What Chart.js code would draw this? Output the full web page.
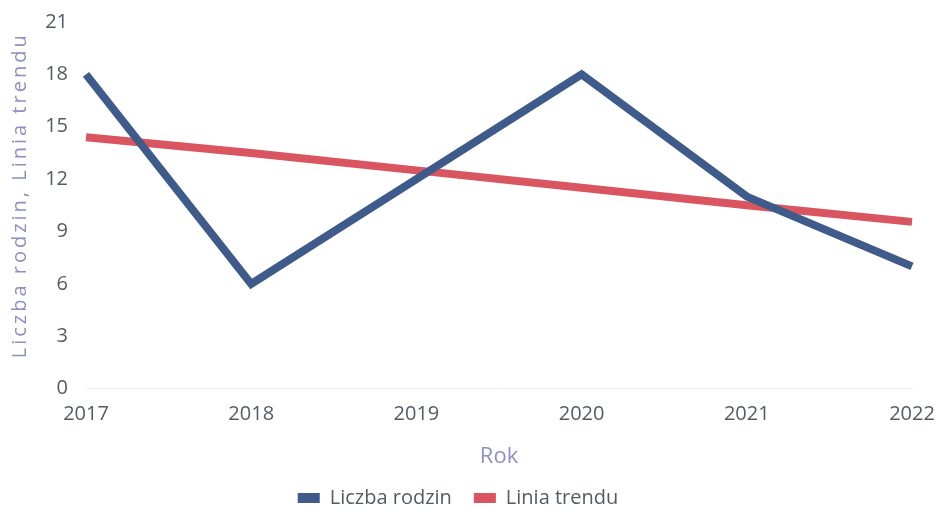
<!DOCTYPE html>
<html>
<head>
<meta charset="utf-8">
<script src="https://cdn.jsdelivr.net/npm/chart.js@4.4.0/dist/chart.umd.min.js"></script>
<style>
  html, body { margin: 0; padding: 0; background: #fff; }
  #wrap { width: 936px; height: 512px; }
</style>
</head>
<body>
<div id="wrap"><canvas id="myChart" width="936" height="512"></canvas></div>
<script>
const years = ["2017", "2018", "2019", "2020", "2021", "2022"];
const liczbaRodzin = [18, 6, 12, 18, 11, 7];
const liniaTrendu = [14.4, 13.5, 12.5, 11.5, 10.5, 9.55];
const yTicks = [0, 3, 6, 9, 12, 15, 18, 21];

const textColor = "#555a66";
const titleColor = "#8c90c4";

// small tweaks: wider letters on the y title, legend with bigger gaps but less height
const tweaks = {
  id: "tweaks",
  beforeLayout(chart) {
    const lg = chart.legend;
    if (lg && !lg._wrapped) {
      const origFit = lg.fit.bind(lg);
      lg.fit = function () {
        origFit();
        this._fullHeight = this.height;
        this.height = 28;
      };
      lg._wrapped = true;
    }
  },
  afterLayout(chart) {
    const lg = chart.legend;
    if (!lg) return;
    lg.top -= 18;
    lg.bottom = lg.top + lg._fullHeight;
  },
  beforeDraw(chart) {
    const s = chart.scales.y;
    if (!s || s._spaced) return;
    const orig = s.drawTitle.bind(s);
    s.drawTitle = function () {
      chart.ctx.save();
      chart.ctx.letterSpacing = "3px";
      chart.ctx.translate(0, -10);
      orig();
      chart.ctx.restore();
    };
    s._spaced = true;
  },
};

function initChart() {
  const ctx = document.getElementById("myChart");
  Chart.defaults.font.family = "'Open Sans', 'Noto Sans', sans-serif";

  return new Chart(ctx, {
    type: "line",
    data: {
      labels: years,
      datasets: [
        {
          label: "Liczba rodzin",
          data: liczbaRodzin,
          borderColor: "#3f5b8c",
          backgroundColor: "#3f5b8c",
          borderWidth: 8,
          pointRadius: 0,
          tension: 0,
          order: 1,
        },
        {
          label: "Linia trendu",
          data: liniaTrendu,
          borderColor: "#d9555f",
          backgroundColor: "#d9555f",
          borderWidth: 8,
          pointRadius: 0,
          tension: 0,
          order: 2,
        },
      ],
    },
    plugins: [tweaks],
    options: {
      responsive: false,
      animation: false,
      layout: { padding: { left: 4, right: 24, top: 2, bottom: 0 } },
      plugins: {
        tooltip: { enabled: false },
        legend: {
          position: "bottom",
          labels: {
            color: textColor,
            font: { size: 20 },
            boxWidth: 22,
            boxHeight: 10,
            padding: 22,
            generateLabels: (chart) =>
              Chart.defaults.plugins.legend.labels
                .generateLabels(chart)
                .map((l) => ({ ...l, lineWidth: 0 })),
          },
        },
      },
      scales: {
        x: {
          offset: false,
          afterFit: (scale) => {
            scale.paddingLeft = 0;
            scale.paddingRight = 0;
          },
          grid: { display: false },
          border: { display: true, color: "#eeeeee", dash: [2, 2] },
          ticks: { color: textColor, font: { size: 20 }, padding: 6, maxRotation: 0 },
          title: {
            display: true,
            text: "Rok",
            color: titleColor,
            font: { size: 22 },
            padding: { top: 11, bottom: 14 },
          },
        },
        y: {
          min: 0,
          max: 21,
          afterBuildTicks: (scale) => {
            scale.ticks = yTicks.map((v) => ({ value: v }));
          },
          afterFit: (scale) => {
            scale.width = 82;
          },
          grid: { display: false },
          border: { display: false },
          ticks: { color: textColor, font: { size: 20 }, padding: 10 },
          title: {
            display: true,
            text: "Liczba rodzin, Linia trendu",
            color: titleColor,
            font: { size: 20 },
            padding: { bottom: 2 },
          },
        },
      },
    },
  });
}

document.addEventListener("DOMContentLoaded", () => initChart());
</script>
</body>
</html>
